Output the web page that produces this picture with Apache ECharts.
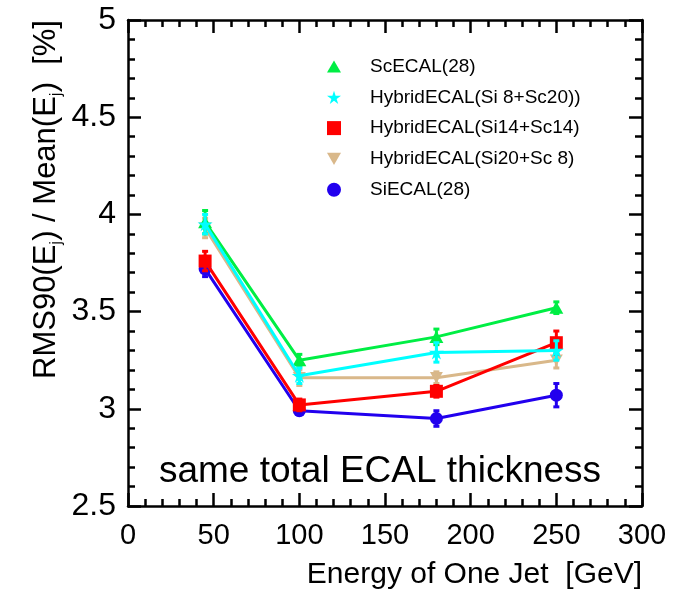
<!DOCTYPE html>
<html><head><meta charset="utf-8">
<script src="https://cdn.jsdelivr.net/npm/echarts@6/dist/echarts.min.js"></script>
<style>html,body{margin:0;padding:0;background:#fff}#c{width:677px;height:590px}</style>
</head><body><div id="c"></div>
<script>
// ---- data ----
const energies = [45, 100, 180, 250];
const names = ['ScECAL(28)', 'HybridECAL(Si 8+Sc20))', 'HybridECAL(Si14+Sc14)', 'HybridECAL(Si20+Sc 8)', 'SiECAL(28)'];
const scEcal      = [3.96, 3.25, 3.37, 3.52];
const scEcalErr   = [0.06, 0.03, 0.04, 0.03];
const hybrid8     = [3.95, 3.17, 3.29, 3.30];
const hybrid8Err  = [0.05, 0.04, 0.05, 0.05];
const hybrid14    = [3.76, 3.02, 3.09, 3.34];
const hybrid14Err = [0.05, 0.03, 0.03, 0.06];
const hybrid20    = [3.93, 3.16, 3.16, 3.25];
const hybrid20Err = [0.05, 0.04, 0.03, 0.04];
const siEcal      = [3.72, 2.99, 2.95, 3.07];
const siEcalErr   = [0.04, 0.02, 0.04, 0.06];
const xTicks = [0, 50, 100, 150, 200, 250, 300];
const yTicks = [2.5, 3, 3.5, 4, 4.5, 5];

const colors = ['#00ee44', '#00ffff', '#ff0000', '#d9b88a', '#2200ee'];
const starPath = 'path://M50,0 L61,35 L98,35 L68,57 L79,91 L50,70 L21,91 L32,57 L2,35 L39,35 Z';
const invTri = 'path://M0,0 L100,0 L50,87 Z';
const upTri = 'path://M50,0 L100,87 L0,87 Z';
const symbols = [upTri, starPath, 'rect', invTri, 'circle'];
const symSizes = [14, 15, 13, 13, 13];
const vals = [scEcal, hybrid8, hybrid14, hybrid20, siEcal];
const errs = [scEcalErr, hybrid8Err, hybrid14Err, hybrid20Err, siEcalErr];
const drawOrder = [4, 3, 2, 0, 1];

const FONT = '"Liberation Sans", Arial, Helvetica, sans-serif';
const chart = echarts.init(document.getElementById('c'));

const series = [];
drawOrder.forEach((i, k) => {
  const pts = energies.map((x, j) => [x, vals[i][j], errs[i][j]]);
  series.push({
    name: names[i], type: 'line', data: pts.map(p => [p[0], p[1]]),
    symbol: symbols[i], symbolSize: symSizes[i], symbolKeepAspect: true, z: 3 + k * 2,
    lineStyle: {color: colors[i], width: 3}, itemStyle: {color: colors[i]},
    showSymbol: true, animation: false, xAxisIndex: 0, yAxisIndex: 0
  });
  series.push({
    name: names[i], type: 'custom', data: pts, z: 4 + k * 2, animation: false,
    renderItem: function (params, api) {
      const x = api.value(0), y = api.value(1), e = api.value(2);
      const lo = api.coord([x, y - e]), hi = api.coord([x, y + e]);
      const st = {stroke: colors[i], lineWidth: 3};
      return {type: 'group', children: [
        {type: 'line', shape: {x1: lo[0], y1: lo[1], x2: hi[0], y2: hi[1]}, style: st},
        {type: 'line', shape: {x1: lo[0] - 3, y1: lo[1], x2: lo[0] + 3, y2: lo[1]}, style: st},
        {type: 'line', shape: {x1: hi[0] - 3, y1: hi[1], x2: hi[0] + 3, y2: hi[1]}, style: st}
      ]};
    }
  });
});

function axisBase() {
  return {
    type: 'value',
    axisLine: {show: true, onZero: false, lineStyle: {color: '#000', width: 2.5}},
    axisTick: {show: true, inside: true, length: 13, lineStyle: {color: '#000', width: 2.5}},
    minorTick: {show: true, splitNumber: 5, length: 7, lineStyle: {color: '#000', width: 2.5}},
    splitLine: {show: false}
  };
}

chart.setOption({
  animation: false,
  backgroundColor: '#fff',
  grid: {left: 128, top: 20, right: 35, bottom: 83, containLabel: false},
  legend: {
    orient: 'vertical', left: 322, top: 52, itemWidth: 14, itemHeight: 14, itemGap: 11.8,
    data: names.map((n, i) => ({name: n, icon: symbols[i], itemStyle: {color: colors[i]}})),
    textStyle: {fontFamily: FONT, fontSize: 19, color: '#000', padding: [0, 0, 0, 24]},
    selectedMode: false
  },
  xAxis: [
    Object.assign(axisBase(), {position: 'bottom', min: 0, max: 300, interval: 50,
      axisLabel: {show: true, margin: 15, fontFamily: FONT, fontSize: 29, color: '#000',
        formatter: v => xTicks.includes(v) ? String(v) : ''},
      name: 'Energy of One Jet  [GeV]', nameLocation: 'end', nameGap: 0,
      nameTextStyle: {fontFamily: FONT, fontSize: 30, color: '#000', align: 'right', verticalAlign: 'top', padding: [54, 0, 0, 0]}}),
    Object.assign(axisBase(), {position: 'top', min: 0, max: 300, interval: 50, axisLabel: {show: false}})
  ],
  yAxis: [
    Object.assign(axisBase(), {position: 'left', min: 2.5, max: 5, interval: 0.5,
      axisLabel: {show: true, margin: 12, fontFamily: FONT, fontSize: 32, color: '#000',
        formatter: v => { const t = yTicks.find(q => Math.abs(q - v) < 1e-9); return t === undefined ? '' : String(t); }}}),
    Object.assign(axisBase(), {position: 'right', min: 2.5, max: 5, interval: 0.5, axisLabel: {show: false}})
  ],
  graphic: [
    {type: 'text', x: 380, y: 472, z: 100,
     style: {text: 'same total ECAL thickness', font: '37px ' + FONT, fill: '#000', textAlign: 'center', textVerticalAlign: 'middle'}},
    {type: 'text', x: 46, y: 379, rotation: Math.PI / 2, z: 100,
     style: {text: 'RMS90(E{sub|j}) / Mean(E{sub|j})  [%]', font: '31px ' + FONT, fill: '#000',
       textAlign: 'left', textVerticalAlign: 'middle',
       rich: {sub: {fontSize: 17, fontFamily: FONT, fill: '#000', padding: [20, 0, 0, 0]}}}}
  ],
  series: series
});
</script></body></html>
